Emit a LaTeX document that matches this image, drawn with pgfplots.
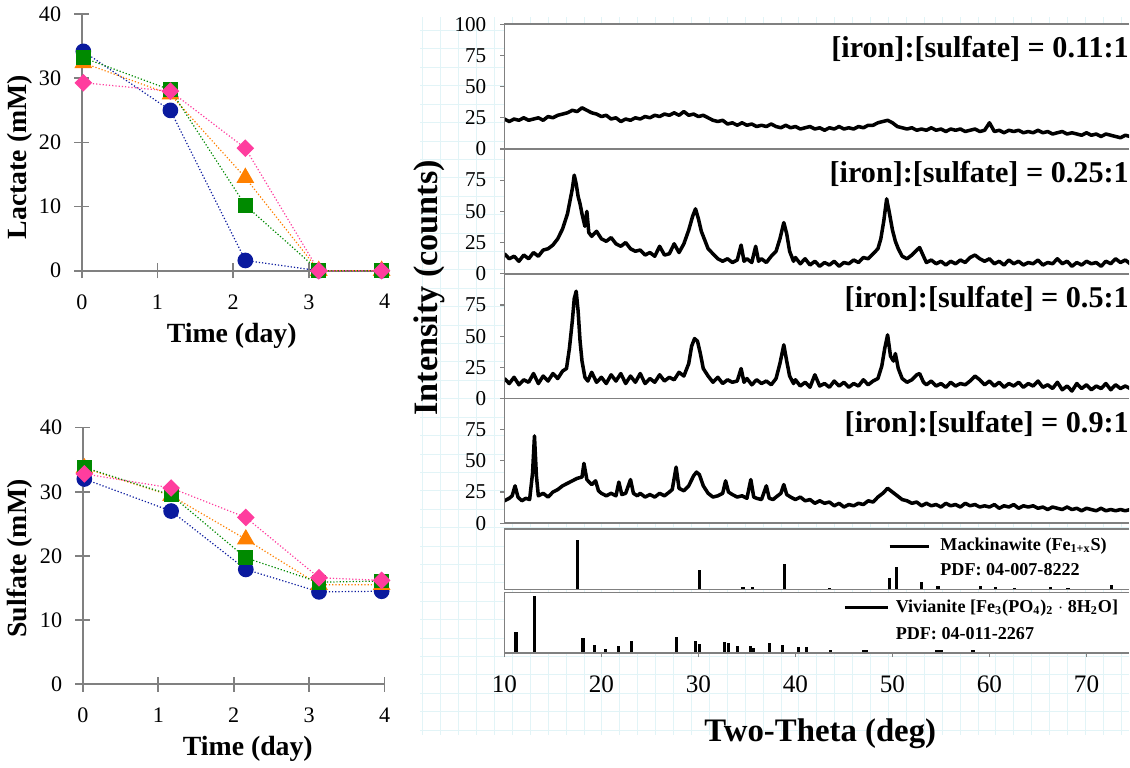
\documentclass[border=0pt]{standalone}
\usepackage{fontspec}
\setmainfont{Liberation Serif}
\usepackage{pgfplots}
\pgfplotsset{compat=1.18}
\definecolor{cblue}{HTML}{0A1A9E}
\definecolor{corange}{HTML}{FF8000}
\definecolor{cgreen}{HTML}{008A00}
\definecolor{cpink}{HTML}{FF3D9E}
\definecolor{axgray}{HTML}{808080}
\definecolor{paper}{HTML}{E2F4F7}
\tikzset{
  ratio/.style={anchor=east, inner sep=0pt, font=\bfseries\fontsize{15}{17}\selectfont},
  leg/.style={anchor=west, inner sep=0pt, font=\bfseries\fontsize{9}{10}\selectfont},
  axl/.style={axgray, line width=0.8pt},
}
\pgfplotsset{
  leftplot/.style={scale only axis, width=150.5pt, height=127.5pt,
    xmin=0, xmax=4, ymin=0, ymax=40, axis lines*=left,
    axis line style={axgray, line width=0.8pt},
    tick align=center, major tick length=7.5pt,
    tick style={axgray, line width=0.8pt},
    xtick={0,1,2,3,4}, ytick={0,10,20,30,40},
    tick label style={font=\fontsize{11}{13}\selectfont},
    /pgf/number format/assume math mode=true,
    xticklabel style={yshift=-4.5pt}, yticklabel style={xshift=-3pt},
    clip=false},
  sb/.style={cblue, densely dotted, line width=0.6pt, mark=*, mark size=3.6pt, mark options={solid, fill=cblue, draw=cblue}},
  so/.style={corange, densely dotted, line width=0.6pt, mark=triangle*, mark size=4.5pt, mark options={solid, fill=corange, draw=corange}},
  sg/.style={cgreen, densely dotted, line width=0.6pt, mark=square*, mark size=3.4pt, mark options={solid, fill=cgreen, draw=cgreen}},
  sp/.style={cpink, densely dotted, line width=0.6pt, mark=square*, mark size=2.8pt, mark options={solid, rotate=45, fill=cpink, draw=cpink}},
  xrd/.style={scale only axis, width=310.5pt, height=62pt,
    xmin=10, xmax=74.4, ymin=0, ymax=100,
    axis background/.style={fill=white},
    axis line style={draw=none}, clip mode=individual,
    tick align=outside, major tick length=2pt,
    tick style={axgray, line width=0.6pt},
    xtick=\empty, ytick={0,25,50,75}, ytick pos=left,
    yticklabel style={font=\fontsize{10.5}{12}\selectfont, xshift=-3.5pt},
    /pgf/number format/assume math mode=true},
  trace/.style={black, line width=1.75pt, line join=round},
}
\newcommand{\xrdframe}{\draw[axl] (rel axis cs:1,1) -- (rel axis cs:0,1) -- (rel axis cs:0,0) -- (rel axis cs:1,0);}
\begin{document}
\begin{tikzpicture}

% faint graph-paper background behind the XRD figure
\foreach \i in {0,...,39} {\draw[paper, line width=0.5pt] (214pt+\i*8.9pt,-11.5pt) -- (214pt+\i*8.9pt,-368pt);}
\foreach \k in {0,...,38} {\draw[paper, line width=0.5pt] (212.5pt,-18.15pt-\k*9.15pt) -- (565pt,-18.15pt-\k*9.15pt);}

% ---------- Lactate ----------
\begin{axis}[leftplot, at={(44.5pt,-137.5pt)}, anchor=south west]
\addplot[sb] coordinates {(0.02,34.2) (1.17,25.0) (2.16,1.6) (3.13,0) (3.96,0)};
\addplot[so] coordinates {(0.02,32.4) (1.17,27.5) (2.16,14.5) (3.13,0) (3.96,0)};
\addplot[sg] coordinates {(0.02,33.2) (1.17,28.2) (2.16,10.2) (3.13,0) (3.96,0)};
\addplot[sp] coordinates {(0.02,29.3) (1.17,28.0) (2.16,19.1) (3.13,0) (3.96,0)};
\end{axis}

% ---------- Sulfate ----------
\begin{axis}[leftplot, at={(45pt,-343pt)}, anchor=south west, width=150pt]
\addplot[sb] coordinates {(0.02,32.0) (1.17,27.0) (2.16,17.9) (3.13,14.4) (3.96,14.5)};
\addplot[so] coordinates {(0.02,33.7) (1.17,29.4) (2.16,22.6) (3.13,15.5) (3.96,15.5)};
\addplot[sg] coordinates {(0.02,33.8) (1.17,29.5) (2.16,19.7) (3.13,15.9) (3.96,16.1)};
\addplot[sp] coordinates {(0.02,32.8) (1.17,30.6) (2.16,26.0) (3.13,16.6) (3.96,16.2)};
\end{axis}

\node[rotate=90, font=\bfseries\fontsize{13.8}{15}\selectfont] at (13.5pt,-81pt) {Lactate (mM)};
\node[rotate=90, font=\bfseries\fontsize{13.8}{15}\selectfont] at (13.5pt,-280.5pt) {Sulfate (mM)};
\node[font=\bfseries\fontsize{13.8}{15}\selectfont] at (119pt,-170pt) {Time (day)};
\node[font=\bfseries\fontsize{13.8}{15}\selectfont] at (127pt,-375pt) {Time (day)};

% ---------- XRD panel 1 ----------
\begin{axis}[xrd, at={(254.5pt,-77pt)}, anchor=south west, ytick={0,25,50,75,100}]
\addplot[trace] table[row sep=\\] {x y\\
10 24\\ 10.5 22\\ 11 24\\ 11.5 23\\ 12 25\\ 12.5 23\\ 13 24\\ 13.5 25\\ 14 23\\ 14.5 26\\
15 25\\ 15.5 27\\ 16 28\\ 16.5 29\\ 17 31\\ 17.5 30\\ 18 33\\ 18.5 31\\ 19 29\\ 19.5 28\\
20 26\\ 20.5 27\\ 21 24\\ 21.5 25\\ 22 22\\ 22.5 24\\ 23 23\\ 23.5 25\\ 24 24\\ 24.5 26\\
25 25\\ 25.5 27\\ 26 26\\ 26.5 28\\ 27 27\\ 27.5 29\\ 28 27\\ 28.5 30\\ 29 27\\ 29.5 28\\
30 26\\ 30.5 27\\ 31 25\\ 31.5 23\\ 32 22\\ 32.5 23\\ 33 20\\ 33.5 21\\ 34 19\\ 34.5 21\\
35 19\\ 35.5 20\\ 36 18\\ 36.5 19\\ 37 18\\ 37.5 20\\ 38 18\\ 38.5 17\\ 39 19\\ 39.5 17\\
40 18\\ 40.5 16\\ 41 17\\ 41.5 18\\ 42 16\\ 42.5 17\\ 43 15\\ 43.5 17\\ 44 16\\ 44.5 18\\
45 16\\ 45.5 17\\ 46 16\\ 46.5 18\\ 47 17\\ 47.5 19\\ 48 19\\ 48.5 21\\ 49 22\\ 49.5 23\\
50 21\\ 50.5 18\\ 51 17\\ 51.5 16\\ 52 17\\ 52.5 15\\ 53 16\\ 53.5 15\\ 54 17\\ 54.5 15\\
55 16\\ 55.5 14\\ 56 16\\ 56.5 15\\ 57 16\\ 57.5 14\\ 58 15\\ 58.5 16\\ 59 14\\ 59.5 15\\
60 21\\ 60.5 14\\ 61 15\\ 61.5 13\\ 62 15\\ 62.5 14\\ 63 15\\ 63.5 13\\ 64 14\\ 64.5 13\\
65 15\\ 65.5 13\\ 66 14\\ 66.5 12\\ 67 13\\ 67.5 14\\ 68 12\\ 68.5 13\\ 69 12\\ 69.5 11\\
70 13\\ 70.5 11\\ 71 12\\ 71.5 10\\ 72 12\\ 72.5 11\\ 73 10\\ 73.5 9\\ 74 11\\ 74.5 10\\ 75 10\\
};
\xrdframe
\node[ratio] at (axis cs:74.4,80) {[iron]:[sulfate] = 0.11:1};
\end{axis}

% ---------- XRD panel 2 ----------
\begin{axis}[xrd, at={(254.5pt,-139pt)}, anchor=south west]
\addplot[trace] table[row sep=\\] {x y\\
10 16\\ 10.5 12\\ 11 14\\ 11.5 10\\ 12 15\\ 12.5 12\\ 13 17\\ 13.5 14\\ 14 19\\ 14.5 20\\
15 23\\ 15.5 28\\ 16 36\\ 16.5 48\\ 16.8 60\\ 17 68\\ 17.2 79\\ 17.4 72\\ 17.6 62\\ 17.8 56\\
18 48\\ 18.3 38\\ 18.5 50\\ 18.7 33\\ 19 30\\ 19.5 34\\ 20 28\\ 20.5 26\\ 21 29\\ 21.5 24\\
22 22\\ 22.5 25\\ 23 20\\ 23.5 18\\ 24 19\\ 24.5 15\\ 25 17\\ 25.5 14\\ 26 22\\ 26.5 15\\
27 16\\ 27.5 24\\ 28 17\\ 28.5 24\\ 29 35\\ 29.4 46\\ 29.7 52\\ 30 44\\ 30.3 34\\ 30.6 28\\
31 20\\ 31.5 16\\ 32 12\\ 32.5 10\\ 33 12\\ 33.5 9\\ 34 11\\ 34.4 23\\ 34.7 10\\ 35 12\\
35.5 9\\ 35.9 22\\ 36.2 10\\ 36.5 12\\ 37 9\\ 37.5 14\\ 38 18\\ 38.4 28\\ 38.8 41\\ 39.1 32\\
39.4 18\\ 39.8 10\\ 40 13\\ 40.5 8\\ 41 12\\ 41.5 7\\ 42 10\\ 42.5 6\\ 43 9\\ 43.5 7\\
44 10\\ 44.5 6\\ 45 9\\ 45.5 8\\ 46 11\\ 46.5 9\\ 47 13\\ 47.5 12\\ 48 16\\ 48.5 20\\
48.8 28\\ 49.1 42\\ 49.4 60\\ 49.7 48\\ 50 35\\ 50.3 26\\ 50.6 20\\ 51 14\\ 51.5 12\\ 52 15\\
52.5 19\\ 52.8 21\\ 53.2 14\\ 53.5 9\\ 54 11\\ 54.5 8\\ 55 10\\ 55.5 7\\ 56 10\\ 56.5 8\\
57 11\\ 57.5 9\\ 58 13\\ 58.5 15\\ 59 12\\ 59.5 10\\ 60 12\\ 60.5 8\\ 61 10\\ 61.5 7\\
62 11\\ 62.5 8\\ 63 10\\ 63.5 7\\ 64 9\\ 64.5 8\\ 65 11\\ 65.5 7\\ 66 9\\ 66.5 8\\
67 12\\ 67.5 8\\ 68 10\\ 68.5 6\\ 69 9\\ 69.5 7\\ 70 10\\ 70.5 8\\ 71 9\\ 71.5 6\\
72 10\\ 72.5 8\\ 73 12\\ 73.5 9\\ 74 11\\ 74.5 8\\ 75 10\\
};
\xrdframe
\node[ratio] at (axis cs:74.4,80) {[iron]:[sulfate] = 0.25:1};
\end{axis}

% ---------- XRD panel 3 ----------
\begin{axis}[xrd, at={(254.5pt,-201pt)}, anchor=south west]
\addplot[trace] table[row sep=\\] {x y\\
10 16\\ 10.5 12\\ 11 17\\ 11.5 11\\ 12 15\\ 12.5 13\\ 13 20\\ 13.5 12\\ 14 18\\ 14.5 14\\
15 20\\ 15.5 16\\ 16 22\\ 16.4 24\\ 16.7 40\\ 17 62\\ 17.2 80\\ 17.4 86\\ 17.6 70\\ 17.8 46\\
18 30\\ 18.3 17\\ 18.6 14\\ 19 21\\ 19.5 13\\ 20 17\\ 20.5 12\\ 21 19\\ 21.5 14\\ 22 20\\
22.5 12\\ 23 18\\ 23.5 13\\ 24 20\\ 24.5 12\\ 25 16\\ 25.5 13\\ 26 19\\ 26.5 14\\ 27 17\\
27.5 15\\ 28 21\\ 28.5 18\\ 29 28\\ 29.3 42\\ 29.6 48\\ 29.9 46\\ 30.2 36\\ 30.5 24\\ 31 18\\
31.5 13\\ 32 17\\ 32.5 12\\ 33 15\\ 33.5 13\\ 34 14\\ 34.4 24\\ 34.7 13\\ 35 16\\ 35.5 11\\
36 15\\ 36.5 12\\ 37 14\\ 37.5 11\\ 38 16\\ 38.4 28\\ 38.8 43\\ 39.1 30\\ 39.4 18\\ 39.8 12\\
40 15\\ 40.5 10\\ 41 13\\ 41.5 9\\ 42 19\\ 42.5 10\\ 43 12\\ 43.5 9\\ 44 14\\ 44.5 10\\
45 13\\ 45.5 9\\ 46 12\\ 46.5 10\\ 47 15\\ 47.5 11\\ 48 14\\ 48.5 16\\ 48.9 26\\ 49.2 40\\
49.5 51\\ 49.8 34\\ 50.1 30\\ 50.3 36\\ 50.6 24\\ 51 16\\ 51.5 13\\ 52 15\\ 52.5 19\\ 52.8 20\\
53.2 13\\ 53.5 11\\ 54 14\\ 54.5 10\\ 55 12\\ 55.5 9\\ 56 13\\ 56.5 10\\ 57 12\\ 57.5 11\\
58 14\\ 58.5 18\\ 59 15\\ 59.5 11\\ 60 14\\ 60.5 10\\ 61 13\\ 61.5 9\\ 62 12\\ 62.5 10\\
63 13\\ 63.5 9\\ 64 12\\ 64.5 10\\ 65 14\\ 65.5 9\\ 66 11\\ 66.5 8\\ 67 13\\ 67.5 7\\
68 10\\ 68.5 6\\ 69 12\\ 69.5 8\\ 70 11\\ 70.5 7\\ 71 10\\ 71.5 8\\ 72 12\\ 72.5 7\\
73 11\\ 73.5 8\\ 74 10\\ 74.5 8\\ 75 9\\
};
\xrdframe
\node[ratio] at (axis cs:74.4,80) {[iron]:[sulfate] = 0.5:1};
\end{axis}

% ---------- XRD panel 4 ----------
\begin{axis}[xrd, at={(254.5pt,-263pt)}, anchor=south west]
\addplot[trace] table[row sep=\\] {x y\\
10 18\\ 10.5 20\\ 10.8 22\\ 11.1 30\\ 11.4 21\\ 11.8 18\\ 12.2 20\\ 12.6 19\\ 12.9 40\\ 13.1 70\\
13.3 38\\ 13.5 22\\ 14 24\\ 14.5 21\\ 15 25\\ 15.5 27\\ 16 30\\ 16.5 32\\ 17 34\\ 17.5 36\\
18 37\\ 18.2 48\\ 18.5 35\\ 19 31\\ 19.4 34\\ 19.7 26\\ 20 24\\ 20.5 22\\ 21 24\\ 21.5 22\\
21.8 33\\ 22.1 23\\ 22.5 24\\ 23 35\\ 23.3 24\\ 23.7 22\\ 24 24\\ 24.5 21\\ 25 23\\ 25.5 21\\
26 24\\ 26.5 22\\ 27 25\\ 27.3 27\\ 27.7 45\\ 28 28\\ 28.5 26\\ 29 30\\ 29.5 38\\ 29.8 41\\
30.1 39\\ 30.5 30\\ 31 24\\ 31.5 21\\ 32 22\\ 32.5 24\\ 32.8 34\\ 33.1 25\\ 33.5 23\\ 34 21\\
34.5 22\\ 35 20\\ 35.4 35\\ 35.7 21\\ 36 20\\ 36.5 19\\ 37 30\\ 37.3 20\\ 37.7 19\\ 38 21\\
38.5 24\\ 38.8 31\\ 39.1 23\\ 39.5 21\\ 40 19\\ 40.5 21\\ 41 18\\ 41.5 19\\ 42 16\\ 42.5 18\\
43 16\\ 43.5 17\\ 44 14\\ 44.5 16\\ 45 13\\ 45.5 15\\ 46 14\\ 46.5 16\\ 47 15\\ 47.5 18\\
48 17\\ 48.5 21\\ 49 24\\ 49.5 28\\ 50 25\\ 50.5 22\\ 51 19\\ 51.5 18\\ 52 16\\ 52.5 17\\
53 14\\ 53.5 16\\ 54 14\\ 54.5 15\\ 55 13\\ 55.5 16\\ 56 14\\ 56.5 15\\ 57 13\\ 57.5 16\\
58 14\\ 58.5 15\\ 59 13\\ 59.5 14\\ 60 13\\ 60.5 15\\ 61 12\\ 61.5 14\\ 62 13\\ 62.5 15\\
63 12\\ 63.5 14\\ 64 13\\ 64.5 14\\ 65 12\\ 65.5 13\\ 66 11\\ 66.5 13\\ 67 12\\ 67.5 11\\
68 13\\ 68.5 11\\ 69 12\\ 69.5 10\\ 70 12\\ 70.5 11\\ 71 10\\ 71.5 12\\ 72 10\\ 72.5 11\\
73 10\\ 73.5 11\\ 74 10\\ 74.5 11\\ 75 10\\
};
\xrdframe
\node[ratio] at (axis cs:74.4,80) {[iron]:[sulfate] = 0.9:1};
\end{axis}

% ---------- Mackinawite reference ----------
\begin{axis}[xrd, at={(254.5pt,-296pt)}, anchor=south west, height=30pt, ytick=\empty]
\addplot[ycomb, black, line width=1.6pt] table[row sep=\\] {x y\\
17.5 83\\ 30.1 33\\ 34.6 5\\ 35.6 4\\ 38.9 42\\ 43.5 2\\ 49.7 20\\ 50.4 38\\ 53.0 13\\ 54.7 6\\
59.1 6\\ 60.6 5\\ 62.6 3\\ 66.3 5\\ 68.1 3\\ 72.6 8\\
};
\xrdframe
\draw[black, line width=1.5pt] (axis cs:49.7,71.7) -- (axis cs:53.8,71.7);
\node[leg] at (axis cs:54.9,71.7) {Mackinawite (Fe\textsubscript{1+x}S)};
\node[leg] at (axis cs:54.9,33) {PDF: 04-007-8222};
\end{axis}

% ---------- Vivianite reference ----------
\begin{axis}[xrd, at={(254.5pt,-327.5pt)}, anchor=south west, height=30pt, ytick=\empty,
  xtick={10,20,30,40,50,60,70}, xtick pos=bottom,
  xticklabel style={font=\fontsize{12.5}{14}\selectfont, yshift=-6pt}]
\addplot[ycomb, black, line width=1.6pt] table[row sep=\\] {x y\\
11.2 35\\ 13.1 95\\ 18.1 25\\ 19.3 13\\ 20.4 7\\ 21.8 12\\ 23.1 20\\ 27.7 27\\ 29.7 20\\ 30.1 15\\
32.7 18\\ 33.1 17\\ 34.0 12\\ 35.4 12\\ 35.7 8\\ 37.3 17\\ 38.7 13\\ 40.3 10\\ 41.1 10\\ 43.6 5\\
47.0 5\\ 47.3 5\\ 54.6 5\\ 55.0 5\\ 58.3 5\\
};
\xrdframe
\draw[black, line width=1.5pt] (axis cs:45.1,75) -- (axis cs:49.5,75);
\node[leg] at (axis cs:50.3,75) {Vivianite [Fe\textsubscript{3}(PO\textsubscript{4})\textsubscript{2} $\cdot$ 8H\textsubscript{2}O]};
\node[leg] at (axis cs:50.3,33) {PDF: 04-011-2267};
\end{axis}

\node[rotate=90, font=\bfseries\fontsize{17}{19}\selectfont] at (217pt,-146pt) {Intensity (counts)};
\node[font=\bfseries\fontsize{16.3}{18}\selectfont] at (411.5pt,-367.5pt) {Two-Theta (deg)};
\end{tikzpicture}
\end{document}
